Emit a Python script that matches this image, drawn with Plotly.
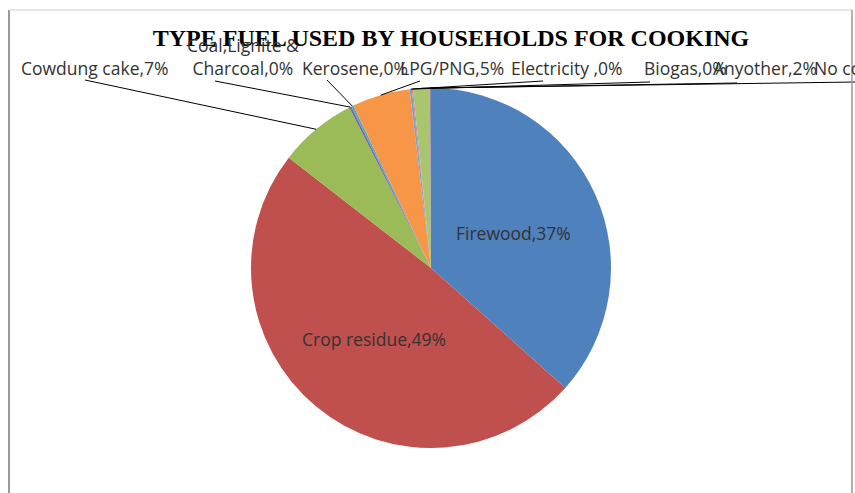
import math
import plotly.graph_objects as go

# ---- data ----
fuel_types = ["Firewood", "Crop residue", "Cowdung cake", "Coal,Lignite & Charcoal",
              "Kerosene", "LPG/PNG", "Electricity ", "Biogas", "Anyother", "No cooking"]
share_values = [36.6, 48.9, 7.0, 0.2, 0.2, 5.2, 0.2, 0.1, 1.5, 0.1]
share_labels = ["37%", "49%", "7%", "0%", "0%", "5%", "0%", "0%", "2%", "0%"]
slice_colors = ["#4F81BD", "#C0504D", "#9BBB59", "#8064A2", "#4BACC6",
                "#F79646", "#7F9FCF", "#CF7F7E", "#A9C56E", "#9983B5"]

W, H = 855, 493
CX, CY, R = 431, 268, 180  # pie centre / radius in pixels


def px(x):
    return x / W


def py(y):
    return 1 - y / H


fig = go.Figure(go.Pie(
    labels=fuel_types,
    values=share_values,
    sort=False,
    direction="clockwise",
    rotation=0,
    textinfo="none",
    hoverinfo="label+percent",
    marker=dict(colors=slice_colors, line=dict(width=0)),
    domain=dict(x=[px(CX - R), px(CX + R)], y=[py(CY + R), py(CY - R)]),
    showlegend=False,
))

# label text placement (pixels): centre x, centre y, and where its leader line attaches
label_font = dict(family="Open Sans, sans-serif", size=17.5, color="#333333")
label_layout = {
    "Cowdung cake": dict(xy=(94, 68), line_end=(85, 80)),
    "Coal,Lignite & Charcoal": dict(xy=(243, 56), line_end=(215, 81), text="Coal,Lignite &<br>Charcoal"),
    "Kerosene": dict(xy=(355, 68), line_end=(327, 80)),
    "LPG/PNG": dict(xy=(452, 68), line_end=(420, 81)),
    "Electricity ": dict(xy=(567, 68), line_end=(543, 81)),
    "Biogas": dict(xy=(685, 68), line_end=(650, 82)),
    "Anyother": dict(xy=(765, 68), line_end=(737, 83)),
    "No cooking": dict(xy=(812, 68), line_end=(855, 82), anchor="left"),
}
inside_layout = {
    "Firewood": (513, 233),
    "Crop residue": (374, 339),
}

annotations = []
shapes = []
total = sum(share_values)
cum = 0.0
for name, val, pct in zip(fuel_types, share_values, share_labels):
    mid = (cum + val / 2) / total
    cum += val
    ang = 2 * math.pi * mid
    sx = CX + R * math.sin(ang)
    sy = CY - R * math.cos(ang)
    if name in inside_layout:
        x, y = inside_layout[name]
        annotations.append(dict(x=px(x), y=py(y), xref="paper", yref="paper",
                                text=f"{name},{pct}", showarrow=False,
                                font=label_font, xanchor="center", yanchor="middle"))
        continue
    spec = label_layout[name]
    x, y = spec["xy"]
    txt = spec.get("text", name) + "," + pct
    annotations.append(dict(x=px(x), y=py(y), xref="paper", yref="paper",
                            text=txt, showarrow=False, font=label_font,
                            xanchor=spec.get("anchor", "center"), yanchor="middle"))
    ex, ey = spec["line_end"]
    shapes.append(dict(type="line", xref="paper", yref="paper",
                       x0=px(ex), y0=py(ey), x1=px(sx), y1=py(sy),
                       line=dict(color="#000000", width=1)))

# chart frame
shapes += [
    dict(type="line", xref="paper", yref="paper", x0=px(9), x1=px(9), y0=py(10), y1=py(500),
         line=dict(color="#9a9a9a", width=2)),
    dict(type="line", xref="paper", yref="paper", x0=px(9), x1=px(852), y0=py(10), y1=py(10),
         line=dict(color="#cfcfcf", width=1)),
    dict(type="line", xref="paper", yref="paper", x0=px(852), x1=px(852), y0=py(10), y1=py(500),
         line=dict(color="#9a9a9a", width=1.5)),
]

fig.update_layout(
    width=W, height=H,
    margin=dict(l=0, r=0, t=0, b=0),
    paper_bgcolor="white", plot_bgcolor="white",
    title=dict(text="<b>TYPE FUEL USED BY HOUSEHOLDS FOR COOKING</b>",
               x=451 / W, xanchor="center", y=py(38), yanchor="middle",
               font=dict(family="Liberation Serif, serif", size=24, color="#000000")),
    annotations=annotations,
    shapes=shapes,
)

fig.write_html("out.html", config={"displayModeBar": False},
               post_script="document.body.style.margin='0';document.body.style.overflow='hidden';")
